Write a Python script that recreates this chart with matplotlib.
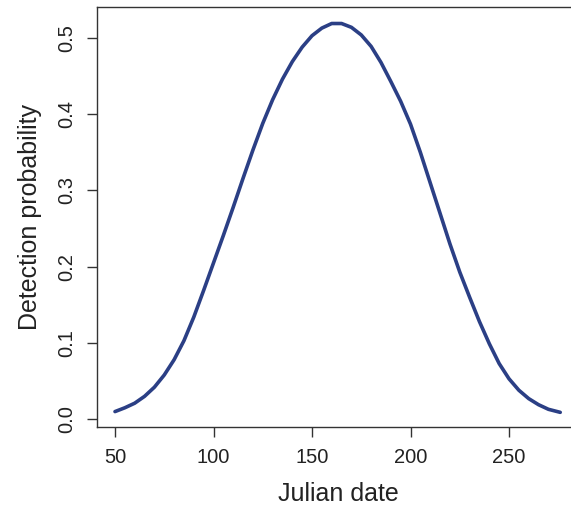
import numpy as np
import matplotlib.pyplot as plt

plt.rcParams["font.family"] = ["Liberation Sans", "DejaVu Sans"]

# detection probability curve over the season
julian_date = [50, 55, 60, 65, 70, 75, 80, 85, 90, 95, 100, 105, 110, 115, 120,
               125, 130, 135, 140, 145, 150, 155, 160, 165, 170, 175, 180, 185,
               190, 195, 200, 205, 210, 215, 220, 225, 230, 235, 240, 245, 250,
               255, 260, 265, 270, 276]
detection_prob = [0.010, 0.015, 0.021, 0.030, 0.042, 0.058, 0.078, 0.103, 0.134,
                  0.169, 0.205, 0.241, 0.278, 0.316, 0.353, 0.388, 0.419, 0.446,
                  0.469, 0.488, 0.503, 0.513, 0.519, 0.519, 0.514, 0.504, 0.489,
                  0.468, 0.443, 0.417, 0.387, 0.350, 0.310, 0.270, 0.230, 0.193,
                  0.160, 0.128, 0.099, 0.073, 0.053, 0.038, 0.027, 0.019, 0.013,
                  0.009]
x_ticks = [50, 100, 150, 200, 250]
y_ticks = [0.0, 0.1, 0.2, 0.3, 0.4, 0.5]

fig = plt.figure(figsize=(5.71, 5.14), dpi=100)
ax = fig.add_axes([0.170, 0.169, 0.846, 0.817])

ax.plot(julian_date, detection_prob, color="#2b3f85", lw=2.6,
        solid_capstyle="round")

ax.set_xlim(40.9, 286.1)
ax.set_ylim(-0.0104, 0.5404)
ax.set_xticks(x_ticks)
ax.set_yticks(y_ticks)
ax.set_yticklabels([f"{v:.1f}" for v in y_ticks], rotation=90, va="center")

for s in ax.spines.values():
    s.set_color("#333333")
    s.set_linewidth(1.0)
ax.tick_params(direction="out", length=7, width=1.0, color="#333333",
               labelsize=14.5, pad=8, labelcolor="#222222")

ax.set_xlabel("Julian date", fontsize=18, labelpad=11, color="#222222")
ax.set_ylabel("Detection probability", fontsize=18, labelpad=11,
              color="#222222")

fig.savefig("out.png", dpi=100)
